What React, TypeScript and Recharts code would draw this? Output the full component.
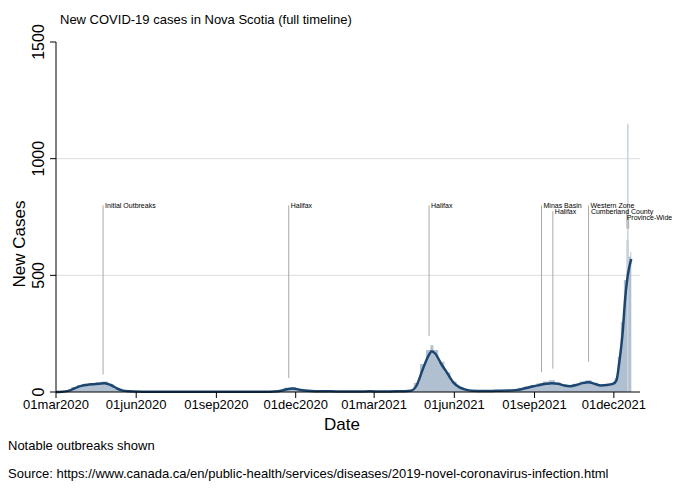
import { ComposedChart, Area, Line, XAxis, YAxis, CartesianGrid, ReferenceLine } from 'recharts';

// days since 01mar2020
const days = [0, 7, 14, 21, 28, 35, 42, 49, 56, 63, 70, 77, 84, 91, 105, 120, 140, 160, 180, 200, 220, 240, 250, 258, 265, 272, 279, 286, 293, 300, 315, 330, 345, 360, 375, 390, 400, 407, 414, 421, 428, 431, 435, 442, 449, 456, 463, 470, 477, 490, 505, 520, 527, 534, 541, 548, 555, 562, 569, 576, 583, 590, 597, 604, 611, 618, 625, 632, 639, 643, 646, 650, 653, 656, 658, 660];
const daily = [0, 2, 8, 20, 30, 35, 38, 42, 45, 32, 14, 6, 3, 2, 1, 1, 1, 1, 1, 1, 1, 2, 3, 8, 18, 20, 12, 7, 4, 3, 3, 2, 3, 3, 2, 3, 4, 8, 40, 120, 180, 200, 180, 130, 85, 45, 22, 12, 6, 5, 6, 7, 12, 18, 25, 30, 38, 45, 50, 40, 32, 30, 35, 45, 50, 40, 32, 34, 40, 60, 150, 300, 480, 650, 580, 600];
const smooth = [0, 1, 5, 15, 25, 30, 33, 35, 38, 30, 15, 6, 3, 2, 1, 1, 1, 1, 1, 1, 1, 1, 2, 5, 12, 15, 10, 6, 4, 3, 3, 2, 2, 3, 2, 3, 3, 5, 30, 100, 160, 175, 165, 120, 80, 40, 20, 10, 5, 4, 5, 6, 8, 12, 18, 25, 30, 35, 38, 35, 28, 25, 30, 38, 42, 35, 28, 30, 35, 50, 120, 250, 400, 500, 540, 570];

const dateTicks = [0, 92, 184, 275, 365, 457, 549, 640];
const dateLabels = ['01mar2020', '01jun2020', '01sep2020', '01dec2020', '01mar2021', '01jun2021', '01sep2021', '01dec2021'];
const caseTicks = [0, 500, 1000, 1500];

const outbreakNames = ['Initial Outbreaks', 'Halifax', 'Halifax', 'Minas Basin', 'Halifax', 'Western Zone', 'Cumberland County', 'Province-Wide'];
const outbreakDays = [54, 267, 428, 557, 570, 611, 655, 657];
const outbreakBase = [75, 60, 240, 85, 100, 130, 700, 700];
const outbreakTop = [800, 800, 800, 800, 775, 800, 775, 750];
const labelShift = [0, 0, 0, 0, 0, 0, -38, -4];

const spikeDays = [656];
const spikeValues = [1150];

const data = days.map((d, i) => ({ day: d, daily: daily[i], smooth: smooth[i] }));

const font = 'Arial, "Liberation Sans", sans-serif';

const YTick = (props: any) => {
  const { x, y, payload } = props;
  return (
    <text x={x - 4} y={y} transform={`rotate(-90 ${x - 4} ${y})`} textAnchor="middle" fontSize={16} fill="#000" fontFamily={font}>
      {payload.value}
    </text>
  );
};

export default function App() {
  return (
    <div style={{ position: 'relative', width: 672, height: 479, fontFamily: font }}>
      <div style={{ position: 'absolute', left: 52, top: 4, fontSize: 13 }}>New COVID-19 cases in Nova Scotia (full timeline)</div>
      <div style={{ position: 'absolute', left: -38, top: 226, width: 100, fontSize: 17, transform: 'rotate(-90deg)', textAlign: 'center' }}>New Cases</div>
      <ComposedChart width={672} height={420} data={data} margin={{ top: 34, right: 40, left: 0, bottom: 0 }} style={{ overflow: 'visible' }}>
        <CartesianGrid vertical={false} horizontalValues={[500, 1000]} stroke="#ddd" />
        <XAxis
          dataKey="day"
          type="number"
          domain={[0, 670]}
          ticks={dateTicks}
          tickFormatter={(v: number) => dateLabels[dateTicks.indexOf(v)]}
          stroke="#000"
          tick={{ fill: '#000', fontSize: 13, fontFamily: font }}
          tickSize={6}
          height={36}
        />
        <YAxis
          type="number"
          domain={[0, 1500]}
          ticks={caseTicks}
          width={48}
          stroke="#000"
          tick={<YTick />}
          tickSize={6}
        />
        {spikeDays.map((d, i) => (
          <ReferenceLine key={'s' + i} segment={[{ x: d, y: 0 }, { x: d, y: spikeValues[i] }]} stroke="#c9d3de" strokeWidth={1.5} />
        ))}
        {outbreakDays.map((d, i) => (
          <ReferenceLine
            key={i}
            segment={[{ x: d, y: outbreakBase[i] }, { x: d, y: outbreakTop[i] }]}
            stroke="#aaa"
            strokeWidth={1}
            label={(p: any) => {
              const vb = p.viewBox || {};
              return (
                <text x={vb.x + 2 + labelShift[i]} y={vb.y + 3} fontSize={7} fill="#000" fontFamily={font}>
                  {outbreakNames[i]}
                </text>
              );
            }}
          />
        ))}
        <Area type="step" dataKey="daily" stroke="none" fill="#a9b9cc" fillOpacity={0.9} isAnimationActive={false} />
        <Line type="monotone" dataKey="smooth" stroke="#1c4670" strokeWidth={2.5} dot={false} isAnimationActive={false} />
      </ComposedChart>
      <div style={{ position: 'absolute', left: 0, top: 430, fontSize: 13 }}>Notable outbreaks shown</div>
      <div style={{ position: 'absolute', left: 0, top: 458, fontSize: 13 }}>
        Source: https://www.canada.ca/en/public-health/services/diseases/2019-novel-coronavirus-infection.html
      </div>
      <div style={{ position: 'absolute', left: 316, top: 407, fontSize: 17 }}>Date</div>
    </div>
  );
}
